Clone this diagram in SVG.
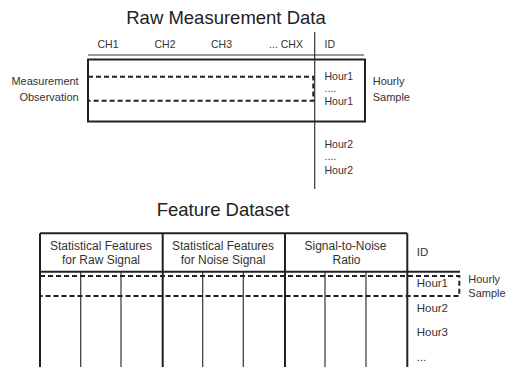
<svg xmlns="http://www.w3.org/2000/svg" width="507" height="367" viewBox="0 0 507 367">
<style>
text{font-family:"Liberation Sans",Arial,sans-serif;fill:#333}
.title{font-size:18.5px;text-anchor:middle;fill:#222}
.s{font-size:10.5px}
.m{font-size:11.5px}
.h{font-size:12px;text-anchor:middle}
.c{text-anchor:middle}
.thick{stroke:#222;stroke-width:2;fill:none}
.thin{stroke:#333;stroke-width:1.2;fill:none}
.dash{stroke:#222;stroke-width:2;fill:none;stroke-dasharray:5,3}
</style>
<rect width="507" height="367" fill="#fff"/>
<g id="raw-data">
  <text class="title" x="226" y="24">Raw Measurement Data</text>
  <text class="s c" x="108" y="48">CH1</text>
  <text class="s c" x="165" y="48">CH2</text>
  <text class="s c" x="221.5" y="48">CH3</text>
  <text class="s c" x="286" y="48">... CHX</text>
  <text class="s" x="324.5" y="48">ID</text>
  <line class="thin" x1="88" y1="55" x2="364" y2="55"/>
  <line class="thin" x1="314.7" y1="32" x2="314.7" y2="189"/>
  <rect class="thick" x="88" y="59.5" width="277" height="62"/>
  <path class="dash" d="M88 76.7H313.3V100.7H88"/>
  <text class="s" x="324.5" y="80">Hour1</text>
  <text class="s" x="324.5" y="92">....</text>
  <text class="s" x="324.5" y="105">Hour1</text>
  <text class="s" x="324.5" y="148">Hour2</text>
  <text class="s" x="324.5" y="160">....</text>
  <text class="s" x="324.5" y="174">Hour2</text>
  <text class="m" x="78.7" y="85" text-anchor="end" style="font-size:11px">Measurement</text>
  <text class="m" x="78.7" y="100.7" text-anchor="end" style="font-size:11px">Observation</text>
  <text class="m" x="372.7" y="85" style="font-size:11px">Hourly</text>
  <text class="m" x="372.7" y="100.7" style="font-size:11px">Sample</text>
</g>
<g id="feature-dataset">
  <text class="title" x="223" y="216">Feature Dataset</text>
  <line class="thick" x1="40" y1="233.3" x2="407.3" y2="233.3"/>
  <line class="thick" x1="40" y1="271.7" x2="460" y2="271.7"/>
  <line class="thick" x1="40" y1="233.3" x2="40" y2="367"/>
  <line class="thick" x1="162.7" y1="233.3" x2="162.7" y2="367"/>
  <line class="thick" x1="285" y1="233.3" x2="285" y2="367"/>
  <line class="thick" x1="407.3" y1="233.3" x2="407.3" y2="367"/>
  <g class="thin">
    <line x1="80.7" y1="271.7" x2="80.7" y2="367"/>
    <line x1="121" y1="271.7" x2="121" y2="367"/>
    <line x1="202.7" y1="271.7" x2="202.7" y2="367"/>
    <line x1="243.3" y1="271.7" x2="243.3" y2="367"/>
    <line x1="325" y1="271.7" x2="325" y2="367"/>
    <line x1="366" y1="271.7" x2="366" y2="367"/>
  </g>
  <path class="dash" d="M40 276H459.3V296H40"/>
  <text class="h" x="101" y="250">Statistical Features</text>
  <text class="h" x="101" y="264">for Raw Signal</text>
  <text class="h" x="223" y="250">Statistical Features</text>
  <text class="h" x="223" y="264">for Noise Signal</text>
  <text class="h" x="345.5" y="250">Signal-to-Noise</text>
  <text class="h" x="346.5" y="264">Ratio</text>
  <text class="m" x="416.7" y="256">ID</text>
  <text class="m" x="416.7" y="287.3">Hour1</text>
  <text class="m" x="416.7" y="312.3">Hour2</text>
  <text class="m" x="416.7" y="336">Hour3</text>
  <text class="m" x="416.7" y="360.7">...</text>
  <text class="m" x="468.3" y="283.3" style="font-size:11px">Hourly</text>
  <text class="m" x="468.3" y="297.3" style="font-size:11px">Sample</text>
</g>
</svg>
